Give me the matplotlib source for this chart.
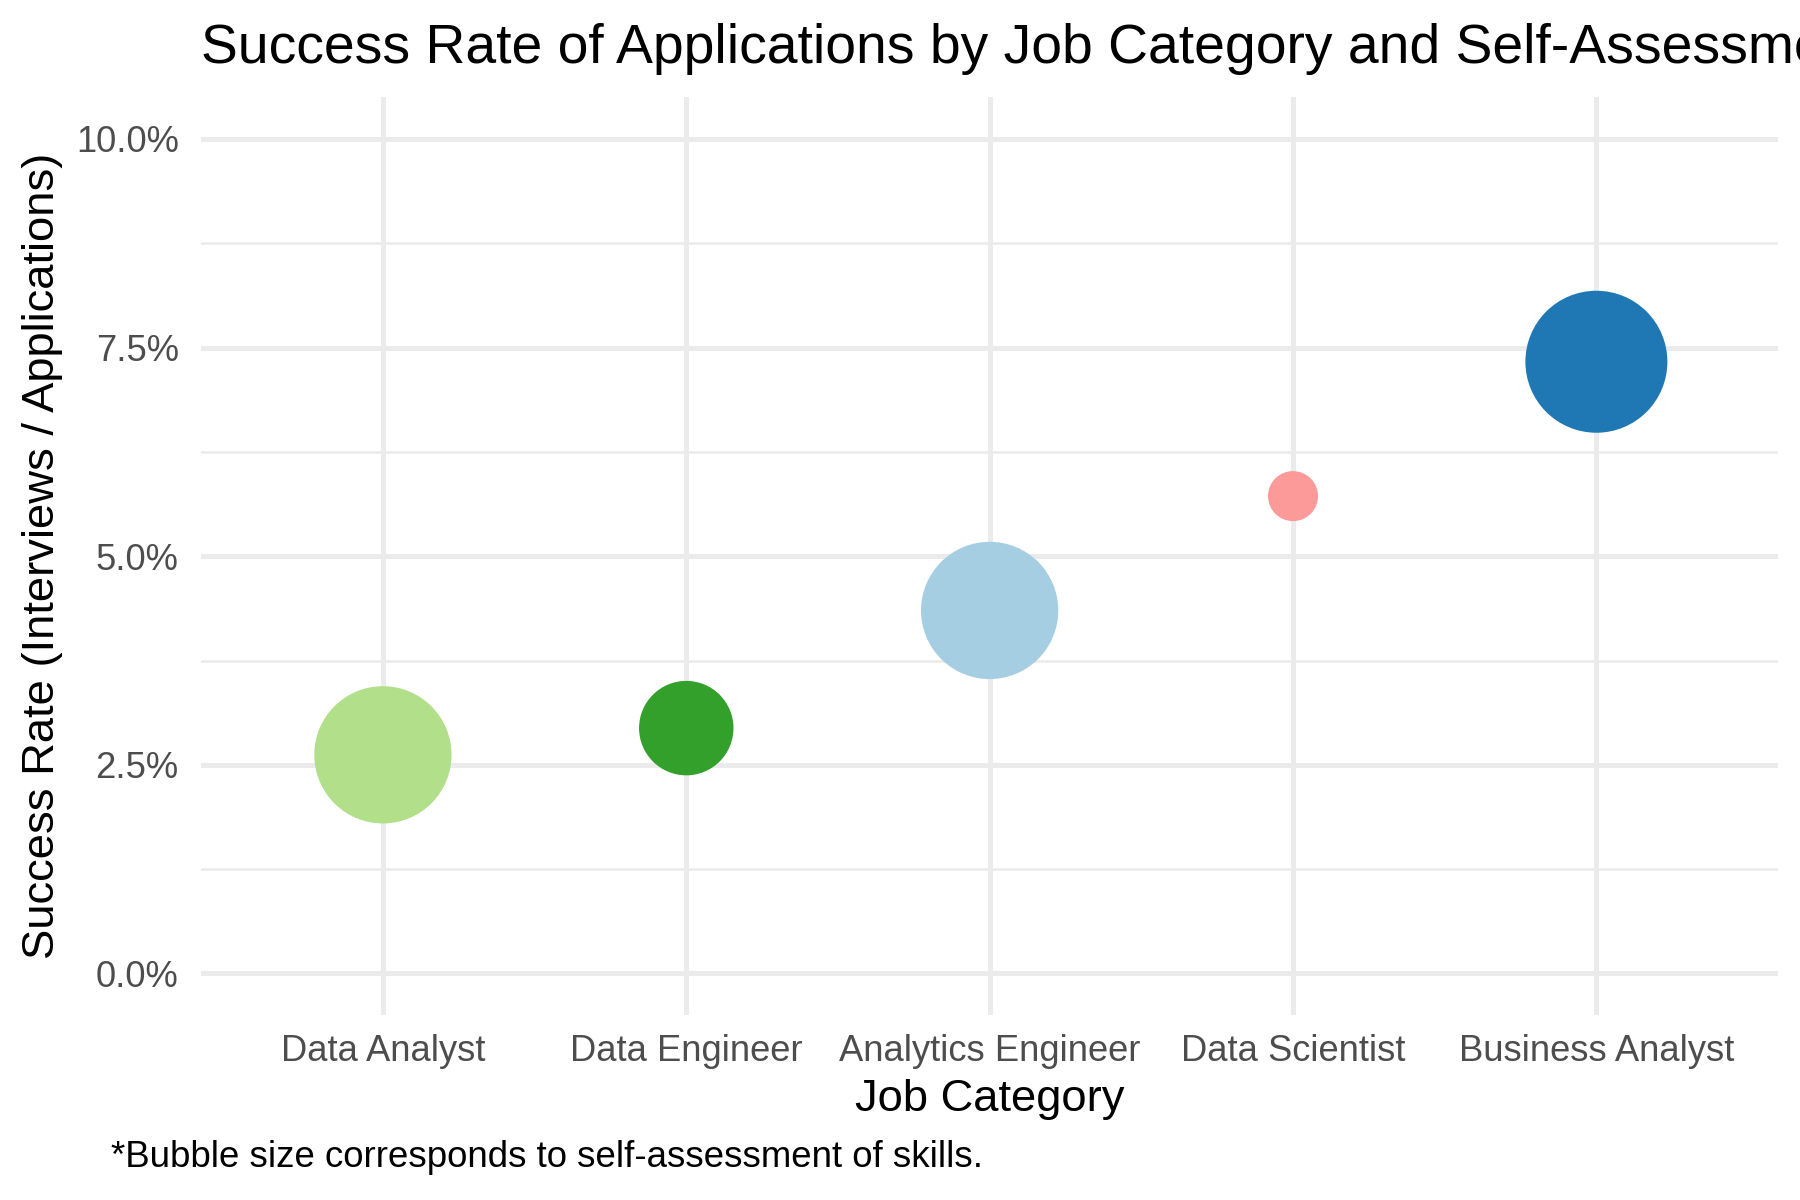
import matplotlib
matplotlib.use('Agg')
import numpy as np
from matplotlib import pyplot as plt
from matplotlib.ticker import MultipleLocator, FixedLocator

plt.rcParams['font.family'] = ['Liberation Sans', 'DejaVu Sans']

categories = ['Data Analyst', 'Data Engineer', 'Analytics Engineer', 'Data Scientist', 'Business Analyst']
success_rate = [2.62, 2.94, 4.35, 5.72, 7.33]   # percent
self_assessment = [7.7, 5.7, 7.7, 5.0, 8.0]
colors = ['#B2DF8A', '#33A02C', '#A6CEE3', '#FB9A99', '#1F78B4']

y_ticks = [0, 2.5, 5.0, 7.5, 10.0]

dpi = 100
fig = plt.figure(figsize=(18, 12), dpi=dpi)
ax = fig.add_axes([0.1116, 0.154, 0.988 - 0.1116, 0.919 - 0.154])

# area scaling like ggplot's scale_size: sqrt of rescaled value onto a radius range
r_lo, r_hi = 25, 71  # pixels
sa = np.array(self_assessment, dtype=float)
t = (sa - sa.min()) / (sa.max() - sa.min())
radius_px = r_lo + (r_hi - r_lo) * np.sqrt(t)
sizes = (2 * radius_px * 72 / dpi) ** 2

x = np.arange(len(categories))
ax.scatter(x, success_rate, s=sizes, c=colors, edgecolors='none', zorder=3)

ax.set_xlim(-0.6, len(categories) - 0.4)
ax.set_ylim(-0.5, 10.5)
ax.set_xticks(x)
ax.set_xticklabels(categories)
ax.yaxis.set_major_locator(FixedLocator(y_ticks))
ax.yaxis.set_minor_locator(MultipleLocator(1.25))
ax.set_yticklabels([f'{v:.1f}%' for v in y_ticks])

for s in ax.spines.values():
    s.set_visible(False)
ax.tick_params(axis='both', which='both', length=0)
ax.tick_params(axis='x', labelsize=26.2, labelcolor='#4D4D4D', pad=13.5)
ax.tick_params(axis='y', labelsize=26.2, labelcolor='#4D4D4D', pad=16)

ax.set_axisbelow(True)
ax.grid(which='major', axis='both', color='#EBEBEB', linewidth=3.6)
ax.grid(which='minor', axis='y', color='#EBEBEB', linewidth=1.8)

ax.set_xlabel('Job Category', fontsize=32.7, color='black')
ax.xaxis.set_label_coords(0.5, -0.069)
ax.xaxis.label.set_va('top')
ax.set_ylabel('Success Rate (Interviews / Applications)', fontsize=32.7, color='black')
ax.yaxis.set_label_coords(-0.1004, 0.5)
ax.yaxis.label.set_va('center')

# the reference title runs past the right edge of the figure
fig.text(0.1116, 0.9474, 'Success Rate of Applications by Job Category and Self-Assessment',
         fontsize=39.8, color='black', ha='left', va='baseline')
fig.text(0.0619, 0.0277, '*Bubble size corresponds to self-assessment of skills.',
         fontsize=26.4, color='black', ha='left', va='baseline')

fig.savefig('out.png', dpi=dpi)
